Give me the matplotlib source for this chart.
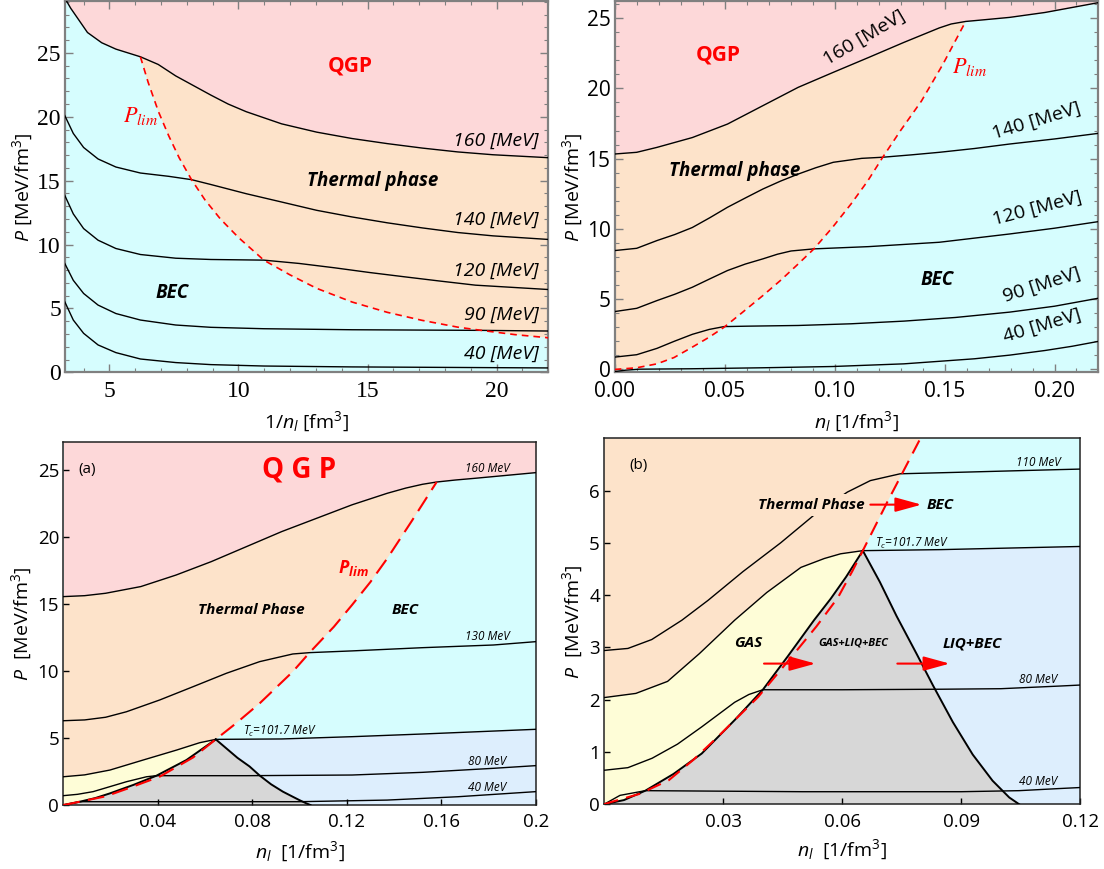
import numpy as np
import matplotlib
matplotlib.use('Agg')
import matplotlib.pyplot as plt
from matplotlib import font_manager
from matplotlib.ticker import MultipleLocator, FormatStrFormatter

plt.rcParams['font.family'] = ['Open Sans', 'DejaVu Sans']
plt.rcParams['mathtext.fontset'] = 'custom'
plt.rcParams['mathtext.rm'] = 'Open Sans'
plt.rcParams['mathtext.it'] = 'Open Sans:italic'
plt.rcParams['mathtext.bf'] = 'Open Sans:bold:italic'

# serif face for the first panel's tick numbers
try:
    SERIF = font_manager.FontProperties(
        fname=font_manager.findfont('Liberation Serif', fallback_to_default=False), size=17)
except Exception:
    SERIF = font_manager.FontProperties(family='DejaVu Serif', size=17)

PINK = '#fdd8d9'
PEACH = '#fde3ca'
CYAN = '#d6fdfe'
YELLOW = '#fefdd7'
LBLUE = '#ddeefd'
GRAY = '#d7d7d7'

# ---- panel 1: P vs 1/n_l ----
p1_t160_x = [3.3, 3.5, 3.74, 4.15, 4.7, 5.25, 6.2, 6.89, 7.57, 8.25, 8.93, 9.6, 10.3, 11.67, 13.03,
             14.4, 15.77, 17.13, 18.5, 19.86, 22.0]
p1_t160_y = [29.2, 28.5, 27.8, 26.6, 25.8, 25.3, 24.7, 24.1, 23.2, 22.45, 21.7, 21.0, 20.4, 19.45, 18.8,
             18.3, 17.9, 17.55, 17.25, 17.03, 16.8]
p1_plim_x = [6.2, 6.5, 6.9, 7.3, 7.7, 8.18, 8.7, 9.3, 10.0, 10.98, 12.0, 13.03, 14.4, 15.77, 17.1,
             18.5, 19.45, 20.7, 22.0]
p1_plim_y = [24.7, 22.7, 20.4, 18.5, 16.8, 15.08, 13.5, 12.0, 10.55, 8.78, 7.62, 6.57, 5.5, 4.69, 4.07,
             3.53, 3.27, 2.95, 2.7]
p1_t140_x = [3.27, 3.6, 4.0, 4.56, 5.25, 6.2, 7.3, 8.18, 8.93, 10.3, 11.67, 13.03, 14.4, 15.77, 17.13,
             18.5, 19.86, 22.0]
p1_t140_y = [20.1, 18.7, 17.6, 16.7, 16.07, 15.6, 15.34, 15.08, 14.7, 13.98, 13.33, 12.68, 12.16, 11.7,
             11.3, 10.94, 10.68, 10.4]
p1_t120_x = [3.27, 3.6, 4.0, 4.56, 5.25, 6.2, 7.57, 8.93, 10.98, 12.35, 13.72, 15.08, 16.45, 17.81,
             19.18, 22.0]
p1_t120_y = [13.85, 12.4, 11.25, 10.34, 9.69, 9.22, 8.93, 8.83, 8.78, 8.52, 8.18, 7.81, 7.47, 7.14,
             6.82, 6.48]
p1_t90_x = [3.27, 3.6, 4.0, 4.56, 5.25, 6.2, 7.57, 8.93, 10.98, 14.4, 19.45, 22.0]
p1_t90_y = [8.52, 7.2, 6.17, 5.26, 4.6, 4.09, 3.7, 3.52, 3.41, 3.33, 3.28, 3.23]
p1_t40_x = [3.27, 3.6, 4.0, 4.56, 5.25, 6.2, 7.57, 8.93, 10.98, 14.4, 22.0]
p1_t40_y = [5.52, 4.09, 3.05, 2.14, 1.54, 1.04, 0.76, 0.6, 0.49, 0.42, 0.34]
p1_labels = ['160 [MeV]', '140 [MeV]', '120 [MeV]', '90 [MeV]', '40 [MeV]']
p1_xticks = [5, 10, 15, 20]
p1_yticks = [0, 5, 10, 15, 20, 25]

# ---- panel 2: P vs n_l ----
p2_t160_x = [0, 0.01, 0.0192, 0.0353, 0.0513, 0.0674, 0.0834, 0.0994, 0.1155, 0.1315, 0.1476, 0.153,
             0.1596, 0.168, 0.1796, 0.1957, 0.22]
p2_t160_y = [15.33, 15.45, 15.8, 16.5, 17.46, 18.77, 20.07, 21.14, 22.2, 23.27, 24.3, 24.58,
             24.76, 24.88, 25.05, 25.4, 26.1]
p2_plim_x = [0, 0.01, 0.0192, 0.027, 0.0353, 0.043, 0.0497, 0.058, 0.0674, 0.0755, 0.0834, 0.0906,
             0.099, 0.1075, 0.115, 0.1219, 0.13, 0.1395, 0.1492, 0.1596]
p2_plim_y = [0, 0.12, 0.4, 0.85, 1.59, 2.3, 3.0, 4.05, 5.26, 6.35, 7.5, 8.58,
             10.1, 11.78, 13.4, 15.1, 17.0, 19.1, 21.7, 24.76]
p2_t140_x = [0, 0.01, 0.0192, 0.0273, 0.0353, 0.0433, 0.0513, 0.0594, 0.0674, 0.0754, 0.0834, 0.0914,
             0.0994, 0.1123, 0.1219, 0.135, 0.1476, 0.1636, 0.1796, 0.2, 0.22]
p2_t140_y = [8.46, 8.62, 9.17, 9.6, 10.1, 10.8, 11.54, 12.2, 12.84, 13.4, 13.9, 14.35,
             14.74, 15.02, 15.1, 15.27, 15.45, 15.72, 16.04, 16.4, 16.8]
p2_t120_x = [0, 0.01, 0.0192, 0.0273, 0.0353, 0.0433, 0.0513, 0.0594, 0.0674, 0.074, 0.0802, 0.0906,
             0.1155, 0.1476, 0.1796, 0.2, 0.22]
p2_t120_y = [4.12, 4.35, 4.9, 5.35, 5.85, 6.45, 7.04, 7.5, 7.87, 8.2, 8.43, 8.58,
             8.74, 9.05, 9.64, 10.05, 10.52]
p2_t90_x = [0, 0.01, 0.0192, 0.027, 0.0353, 0.043, 0.0497, 0.06, 0.0834, 0.1075, 0.1315, 0.155,
            0.1796, 0.2, 0.22]
p2_t90_y = [0.88, 1.05, 1.5, 2.0, 2.5, 2.85, 3.05, 3.08, 3.13, 3.25, 3.44, 3.7, 4.08, 4.5, 5.07]
p2_t40_x = [0, 0.005, 0.011, 0.035, 0.067, 0.099, 0.1315, 0.1636, 0.1796, 0.1957, 0.208, 0.22]
p2_t40_y = [-0.15, -0.05, 0.02, 0.05, 0.12, 0.21, 0.4, 0.76, 1.02, 1.35, 1.65, 2.0]

# ---- panel 3 (a) ----
p3_t160_x = [0, 0.009, 0.0179, 0.0328, 0.0477, 0.0626, 0.0775, 0.0924, 0.1073, 0.1222, 0.1371, 0.145,
             0.152, 0.158, 0.166, 0.1744, 0.2]
p3_t160_y = [15.55, 15.62, 15.8, 16.3, 17.16, 18.16, 19.28, 20.4, 21.4, 22.4, 23.26, 23.65,
             23.93, 24.1, 24.25, 24.38, 24.8]
p3_plim_x = [0, 0.0056, 0.0179, 0.0267, 0.0408, 0.0549, 0.0645, 0.0731, 0.0831, 0.0971, 0.1042, 0.1145,
             0.1222, 0.13, 0.1371, 0.1475, 0.158]
p3_plim_y = [0, 0.2, 0.65, 1.2, 2.12, 3.55, 4.9, 6.1, 7.59, 9.95, 11.37, 13.3,
             14.93, 16.65, 18.4, 21.2, 24.1]
p3_t130_x = [0, 0.009, 0.0179, 0.0267, 0.0408, 0.0549, 0.069, 0.0831, 0.0971, 0.1042, 0.1222, 0.152,
             0.182, 0.2]
p3_t130_y = [6.29, 6.35, 6.55, 6.96, 7.84, 8.83, 9.83, 10.7, 11.27, 11.37, 11.5, 11.74, 11.94, 12.19]
p3_tc_x = [0, 0.009, 0.0197, 0.0338, 0.0479, 0.0577, 0.0645, 0.0924, 0.1222, 0.152, 0.2]
p3_tc_y = [2.11, 2.25, 2.61, 3.36, 4.1, 4.65, 4.9, 4.93, 5.1, 5.3, 5.65]
p3_t80_x = [0, 0.006, 0.0126, 0.0267, 0.0352, 0.0394, 0.0775, 0.1222, 0.152, 0.182, 0.2]
p3_t80_y = [0.7, 0.8, 1.0, 1.74, 2.11, 2.19, 2.19, 2.24, 2.44, 2.74, 2.94]
p3_t40_x = [0, 0.007, 0.1, 0.137, 0.167, 0.2]
p3_t40_y = [0, 0.25, 0.25, 0.37, 0.62, 1.0]
p3_gas_x = [0, 0.007, 0.0135, 0.0197, 0.0296, 0.0394, 0.0521, 0.0645]
p3_gas_y = [0, 0.25, 0.52, 0.87, 1.5, 2.19, 3.36, 4.9]
p3_liq_x = [0.0645, 0.0737, 0.0788, 0.0831, 0.0879, 0.0929, 0.0971, 0.1, 0.1028, 0.1046]
p3_liq_y = [4.9, 3.52, 2.88, 2.2, 1.55, 1.0, 0.62, 0.36, 0.13, 0.0]

# ---- panel 4 (b) ----
p4_t110_x = [0, 0.006, 0.012, 0.0196, 0.0262, 0.035, 0.0445, 0.0529, 0.0613, 0.0671, 0.0746, 0.09,
             0.1146, 0.12]
p4_t110_y = [2.94, 2.98, 3.15, 3.52, 3.9, 4.45, 5.0, 5.53, 5.97, 6.19, 6.32, 6.35, 6.4, 6.41]
p4_tc_x = [0, 0.008, 0.016, 0.024, 0.0329, 0.041, 0.0496, 0.0555, 0.0596, 0.0652, 0.085, 0.1022, 0.12]
p4_tc_y = [2.04, 2.12, 2.35, 2.88, 3.52, 4.05, 4.53, 4.7, 4.79, 4.85, 4.87, 4.9, 4.93]
p4_t80_x = [0, 0.006, 0.0121, 0.0185, 0.0246, 0.0329, 0.0365, 0.04, 0.06, 0.085, 0.1, 0.1146, 0.12]
p4_t80_y = [0.65, 0.7, 0.88, 1.15, 1.48, 1.95, 2.1, 2.19, 2.19, 2.2, 2.21, 2.26, 2.28]
p4_t40_x = [0, 0.004, 0.0104, 0.05, 0.09, 0.1046, 0.1146, 0.12]
p4_t40_y = [0, 0.17, 0.26, 0.24, 0.24, 0.26, 0.3, 0.32]
p4_plim_x = [0, 0.0021, 0.009, 0.0163, 0.0225, 0.0288, 0.0388, 0.0479, 0.0535, 0.0589, 0.0625, 0.0652,
             0.0713, 0.0796]
p4_plim_y = [0, 0.05, 0.2, 0.46, 0.85, 1.3, 2.05, 2.88, 3.4, 3.95, 4.45, 4.85, 5.77, 6.98]
p4_gas_x = [0, 0.005, 0.0104, 0.0175, 0.0246, 0.0329, 0.04, 0.0462, 0.0529, 0.0571, 0.061, 0.0652]
p4_gas_y = [0, 0.08, 0.26, 0.58, 0.97, 1.61, 2.19, 2.82, 3.52, 3.93, 4.35, 4.85]
p4_liq_x = [0.0652, 0.0695, 0.0737, 0.0788, 0.0829, 0.0879, 0.0929, 0.0979, 0.1021, 0.1046]
p4_liq_y = [4.85, 4.25, 3.6, 2.87, 2.27, 1.57, 0.95, 0.45, 0.13, 0.0]


def style_top(ax, labelsize=15):
    for sp in ax.spines.values():
        sp.set_color('#808080')
        sp.set_linewidth(1.6)
    ax.tick_params(which='both', direction='in', top=True, right=True, color='#808080')
    ax.tick_params(which='major', length=6, width=1, labelsize=labelsize)
    ax.tick_params(which='minor', length=3, width=0.8)
    ax.tick_params(axis='x', which='major', pad=6)
    ax.tick_params(axis='y', which='major', pad=3)


def style_bottom(ax):
    for sp in ax.spines.values():
        sp.set_color('#222222')
        sp.set_linewidth(1.1)
    ax.tick_params(which='major', direction='in', length=4, width=1, labelsize=13.5)
    ax.tick_params(axis='x', pad=6)
    ax.tick_params(axis='y', pad=3)


def curve(ax, x, y, lw=1.0):
    ax.plot(x, y, color='black', lw=lw, zorder=3)


def poly(ax, xs, ys, color):
    ax.fill(xs, ys, color=color, lw=0, zorder=1)


fig = plt.figure(figsize=(11.04, 8.69), dpi=100)

# ================= panel 1 =================
ax1 = fig.add_axes([0.0589, 0.5716, 0.4377, 0.4270])
ax1.set_facecolor(CYAN)
j1 = p1_t160_x.index(p1_plim_x[0])
ax1.fill_between(p1_t160_x, p1_t160_y, 40, color=PINK, lw=0, zorder=1)
poly(ax1, p1_t160_x[j1:] + p1_plim_x[::-1], p1_t160_y[j1:] + p1_plim_y[::-1], PEACH)
for xs, ys in [(p1_t160_x, p1_t160_y), (p1_t140_x, p1_t140_y), (p1_t120_x, p1_t120_y),
               (p1_t90_x, p1_t90_y), (p1_t40_x, p1_t40_y)]:
    curve(ax1, xs, ys)
ax1.plot(p1_plim_x, p1_plim_y, color='red', lw=1.2, dashes=(4, 3), zorder=4)
for lbl, yy in zip(p1_labels, [18.15, 11.9, 7.94, 4.48, 1.48]):
    ax1.text(21.64, yy, lbl, ha='right', va='center', fontsize=14, style='italic', zorder=5)
ax1.text(14.33, 24.0, 'QGP', color='red', fontsize=15, fontweight='bold', ha='center', va='center')
ax1.text(15.2, 15.0, 'Thermal phase', fontsize=13.5, fontweight='bold', style='italic',
         ha='center', va='center')
ax1.text(7.43, 6.17, 'BEC', fontsize=13.5, fontweight='bold', style='italic', ha='center', va='center')
ax1.text(6.2, 20.1, r'$P_{lim}$', color='red', fontsize=16, math_fontfamily='stix',
         ha='center', va='center')
style_top(ax1, labelsize=17)
ax1.set_xticks(p1_xticks, [str(v) for v in p1_xticks], fontproperties=SERIF)
ax1.set_yticks(p1_yticks, [str(v) for v in p1_yticks], fontproperties=SERIF)
ax1.xaxis.set_minor_locator(MultipleLocator(1))
ax1.yaxis.set_minor_locator(MultipleLocator(1))
ax1.set_xlim(3.28, 22)
ax1.set_ylim(0, 29.05)
ax1.set_xlabel(r'$\mathit{1/n}_{\mathit{l}}$ [fm$^3$]', fontsize=14, va='center')
ax1.set_ylabel(r'$\mathit{P}$ [MeV/fm$^3$]', fontsize=14, va='center')
ax1.xaxis.set_label_coords(0.5, -0.133)
ax1.yaxis.set_label_coords(-0.087, 0.5)

# ================= panel 2 =================
ax2 = fig.add_axes([0.5568, 0.5716, 0.4382, 0.4270])
ax2.set_facecolor(CYAN)
ax2.set_xlim(0, 0.22)
ax2.set_ylim(-0.2, 26.2)
j2 = p2_t160_x.index(p2_plim_x[-1])
ax2.fill_between(p2_t160_x, p2_t160_y, 40, color=PINK, lw=0, zorder=1)
poly(ax2, p2_t160_x[:j2 + 1] + p2_plim_x[::-1], p2_t160_y[:j2 + 1] + p2_plim_y[::-1], PEACH)
for xs, ys in [(p2_t160_x, p2_t160_y), (p2_t140_x, p2_t140_y), (p2_t120_x, p2_t120_y),
               (p2_t90_x, p2_t90_y), (p2_t40_x, p2_t40_y)]:
    curve(ax2, xs, ys)
ax2.plot(p2_plim_x, p2_plim_y, color='red', lw=1.2, dashes=(4, 3), zorder=4)
p2_lab_pos = [(0.0978, 21.4, 30.5), (0.1732, 16.16, 16.8), (0.1732, 10.0, 14.8),
              (0.178, 4.55, 17.7), (0.178, 1.7, 16.6)]
for lbl, (xx, yy, rot) in zip(p1_labels, p2_lab_pos):
    ax2.text(xx, yy, lbl, ha='left', va='bottom', rotation=rot, rotation_mode='anchor',
             fontsize=14, zorder=5)
ax2.text(0.0473, 22.4, 'QGP', color='red', fontsize=15, fontweight='bold', ha='center', va='center')
ax2.text(0.0545, 14.15, 'Thermal phase', fontsize=13.5, fontweight='bold', style='italic',
         ha='center', va='center')
ax2.text(0.1468, 6.33, 'BEC', fontsize=13.5, fontweight='bold', style='italic', ha='center', va='center')
ax2.text(0.1535, 21.5, r'$P_{lim}$', color='red', fontsize=16, math_fontfamily='stix',
         ha='left', va='center')
ax2.xaxis.set_major_locator(MultipleLocator(0.05))
ax2.xaxis.set_minor_locator(MultipleLocator(0.01))
ax2.yaxis.set_major_locator(MultipleLocator(5))
ax2.yaxis.set_minor_locator(MultipleLocator(1))
ax2.xaxis.set_major_formatter(FormatStrFormatter('%.2f'))
style_top(ax2)
ax2.set_xlabel(r'$\mathit{n}_{\mathit{l}}$ [1/fm$^3$]', fontsize=14, va='center')
ax2.set_ylabel(r'$\mathit{P}$ [MeV/fm$^3$]', fontsize=14, va='center')
ax2.xaxis.set_label_coords(0.5, -0.133)
ax2.yaxis.set_label_coords(-0.086, 0.5)

# ================= panel 3 =================
ax3 = fig.add_axes([0.0574, 0.0736, 0.4280, 0.4180])
ax3.set_facecolor(CYAN)
ax3.set_xlim(0, 0.2)
ax3.set_ylim(0, 27.1)
j3 = p3_t160_x.index(p3_plim_x[-1])
k3 = p3_tc_x.index(p3_gas_x[-1])
ax3.fill_between(p3_t160_x, p3_t160_y, 40, color=PINK, lw=0, zorder=1)
poly(ax3, p3_t160_x[:j3 + 1] + p3_plim_x[::-1], p3_t160_y[:j3 + 1] + p3_plim_y[::-1], PEACH)
poly(ax3, p3_tc_x[:k3 + 1] + p3_gas_x[::-1], p3_tc_y[:k3 + 1] + p3_gas_y[::-1], YELLOW)
poly(ax3, p3_tc_x[k3:] + [p3_tc_x[-1]] + p3_liq_x[::-1], p3_tc_y[k3:] + [0] + p3_liq_y[::-1], LBLUE)
poly(ax3, p3_gas_x + p3_liq_x[1:], p3_gas_y + p3_liq_y[1:], GRAY)
for xs, ys in [(p3_t160_x, p3_t160_y), (p3_t130_x, p3_t130_y), (p3_tc_x, p3_tc_y),
               (p3_t80_x, p3_t80_y), (p3_t40_x, p3_t40_y)]:
    curve(ax3, xs, ys)
curve(ax3, p3_gas_x, p3_gas_y, lw=1.4)
curve(ax3, p3_liq_x, p3_liq_y, lw=1.4)
ax3.plot(p3_plim_x, p3_plim_y, color='red', lw=1.5, dashes=(8, 4), zorder=4)
ax3.text(0.0063, 25.0, '(a)', fontsize=11, ha='left', va='center')
ax3.text(0.0998, 25.0, 'Q G P', color='red', fontsize=20, fontweight='bold', ha='center', va='center')
ax3.text(0.0797, 14.55, 'Thermal Phase', fontsize=11, fontweight='bold', style='italic',
         ha='center', va='center')
ax3.text(0.1446, 14.55, 'BEC', fontsize=11, fontweight='bold', style='italic', ha='center', va='center')
ax3.text(0.1227, 17.66, r'$\mathbf{P}_{\mathbf{lim}}$', color='red', fontsize=13,
         ha='center', va='center')
ax3.text(0.170, 25.1, '160 MeV', fontsize=8.5, style='italic', ha='left', va='center')
ax3.text(0.170, 12.56, '130 MeV', fontsize=8.5, style='italic', ha='left', va='center')
ax3.text(0.076, 5.47, r'$\mathit{T}_{\mathit{c}}$=101.7 MeV', fontsize=8.5, style='italic',
         ha='left', va='center')
ax3.text(0.1714, 3.28, '80 MeV', fontsize=8.5, style='italic', ha='left', va='center')
ax3.text(0.1714, 1.29, '40 MeV', fontsize=8.5, style='italic', ha='left', va='center')
ax3.set_xticks([0.04, 0.08, 0.12, 0.16, 0.2])
ax3.set_xticklabels(['0.04', '0.08', '0.12', '0.16', '0.2'])
ax3.set_yticks([0, 5, 10, 15, 20, 25])
style_bottom(ax3)
ax3.set_xlabel(r'$\mathit{n}_{\mathit{l}}$  [1/fm$^3$]', fontsize=14, va='center')
ax3.set_ylabel(r'$\mathit{P}$  [MeV/fm$^3$]', fontsize=14, va='center')
ax3.xaxis.set_label_coords(0.5, -0.129)
ax3.yaxis.set_label_coords(-0.088, 0.5)

# ================= panel 4 =================
ax4 = fig.add_axes([0.5472, 0.0745, 0.4313, 0.4212])
ax4.set_facecolor(CYAN)
ax4.set_xlim(0, 0.12)
ax4.set_ylim(0, 7)
ytop = 7.0
k4 = p4_tc_x.index(p4_gas_x[-1])
poly(ax4, p4_plim_x + [p4_plim_x[-1], 0], p4_plim_y + [ytop, ytop], PEACH)
poly(ax4, p4_tc_x[:k4 + 1] + p4_gas_x[::-1], p4_tc_y[:k4 + 1] + p4_gas_y[::-1], YELLOW)
poly(ax4, p4_tc_x[k4:] + [p4_tc_x[-1]] + p4_liq_x[::-1], p4_tc_y[k4:] + [0] + p4_liq_y[::-1], LBLUE)
poly(ax4, p4_gas_x + p4_liq_x[1:], p4_gas_y + p4_liq_y[1:], GRAY)
for xs, ys in [(p4_t110_x, p4_t110_y), (p4_tc_x, p4_tc_y), (p4_t80_x, p4_t80_y),
               (p4_t40_x, p4_t40_y)]:
    curve(ax4, xs, ys)
curve(ax4, p4_gas_x, p4_gas_y, lw=1.4)
curve(ax4, p4_liq_x, p4_liq_y, lw=1.4)
ax4.plot(p4_plim_x, p4_plim_y, color='red', lw=1.5, dashes=(7, 4), zorder=4)
ax4.text(0.0064, 6.47, '(b)', fontsize=11, ha='left', va='center')
ax4.text(0.0521, 5.73, 'Thermal Phase', fontsize=11, fontweight='bold', style='italic',
         ha='center', va='center', zorder=5,
         bbox=dict(facecolor=PEACH, edgecolor='none', pad=3))
ax4.text(0.0848, 5.73, 'BEC', fontsize=11, fontweight='bold', style='italic', ha='center', va='center')
ax4.text(0.0363, 3.08, 'GAS', fontsize=11, fontweight='bold', style='italic', ha='center', va='center')
ax4.text(0.0629, 3.08, 'GAS+LIQ+BEC', fontsize=8, fontweight='bold', style='italic',
         ha='center', va='center')
ax4.text(0.0927, 3.08, 'LIQ+BEC', fontsize=11, fontweight='bold', style='italic', ha='center', va='center')
arrow = dict(arrowstyle='-|>,head_length=0.8,head_width=0.22', color='red', lw=1.5,
             mutation_scale=20, shrinkA=0, shrinkB=0)
ax4.annotate('', xy=(0.08, 5.73), xytext=(0.0671, 5.73), arrowprops=arrow, zorder=6)
ax4.annotate('', xy=(0.0533, 2.69), xytext=(0.0403, 2.69), arrowprops=arrow, zorder=6)
ax4.annotate('', xy=(0.0871, 2.69), xytext=(0.0739, 2.69), arrowprops=arrow, zorder=6)
ax4.text(0.1037, 6.54, '110 MeV', fontsize=8.5, style='italic', ha='left', va='center')
ax4.text(0.0683, 4.99, r'$\mathit{T}_{\mathit{c}}$=101.7 MeV', fontsize=8.5, style='italic',
         ha='left', va='center')
ax4.text(0.1046, 2.39, '80 MeV', fontsize=8.5, style='italic', ha='left', va='center')
ax4.text(0.1046, 0.44, '40 MeV', fontsize=8.5, style='italic', ha='left', va='center')
ax4.set_xticks([0.03, 0.06, 0.09, 0.12])
ax4.set_xticklabels(['0.03', '0.06', '0.09', '0.12'])
ax4.set_yticks([0, 1, 2, 3, 4, 5, 6])
style_bottom(ax4)
ax4.set_xlabel(r'$\mathit{n}_{\mathit{l}}$  [1/fm$^3$]', fontsize=14, va='center')
ax4.set_ylabel(r'$\mathit{P}$  [MeV/fm$^3$]', fontsize=14, va='center')
ax4.xaxis.set_label_coords(0.5, -0.125)
ax4.yaxis.set_label_coords(-0.065, 0.5)

fig.savefig('out.png', dpi=100)
